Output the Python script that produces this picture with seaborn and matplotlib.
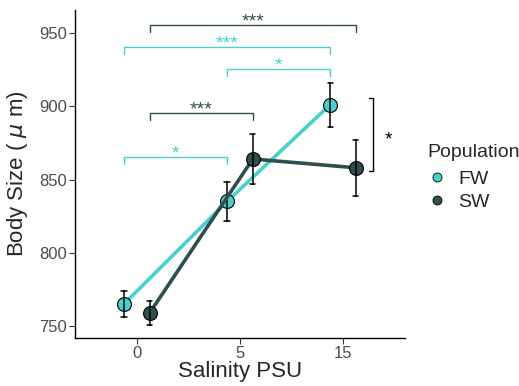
import matplotlib
matplotlib.use("Agg")
import matplotlib.pyplot as plt
import seaborn as sns
import pandas as pd
import numpy as np
from matplotlib.lines import Line2D

salinity = ["0", "5", "15"]
populations = ["FW", "SW"]
fw_mean = [765, 835, 901]
fw_err = [9, 13, 15]
sw_mean = [759, 864, 858]
sw_err = [8, 17, 19]
colors = {"FW": "#48D1CC", "SW": "#2F4F4F"}

# comparisons: (population, from category, to category, y, label)
comparisons = [
    ("SW", 0, 2, 955.5, "***"),
    ("FW", 0, 2, 940.5, "***"),
    ("FW", 1, 2, 925.5, "*"),
    ("SW", 0, 1, 895.5, "***"),
    ("FW", 0, 1, 865.5, "*"),
]

rows = []
for pop, means, errs in [("FW", fw_mean, fw_err), ("SW", sw_mean, sw_err)]:
    for s, m, e in zip(salinity, means, errs):
        rows.append({"Salinity": s, "Population": pop, "Size": m - e})
        rows.append({"Salinity": s, "Population": pop, "Size": m + e})
df = pd.DataFrame(rows)

sns.set_style("white")
plt.rcParams["font.family"] = ["Liberation Sans", "DejaVu Sans"]

fig = plt.figure(figsize=(5.19, 3.86), dpi=100)
ax = fig.add_axes([0.1445, 0.1244, 0.6355, 0.8496])

dodge = 0.25
sns.pointplot(data=df, x="Salinity", y="Size", hue="Population", order=salinity,
              hue_order=populations, palette=colors, dodge=dodge,
              errorbar=("pi", 100), capsize=0.05, markers="o",
              err_kws={"color": "black", "linewidth": 1.1},
              markersize=10, markeredgecolor="black", markeredgewidth=0.8,
              linewidth=2.6, ax=ax, legend=False)

offsets = {"FW": -dodge / 2, "SW": dodge / 2}
tip = 5
for pop, a, b, y, lab in comparisons:
    xa, xb = a + offsets[pop], b + offsets[pop]
    ax.plot([xa, xa, xb, xb], [y - tip, y, y, y - tip], color=colors[pop], lw=1, clip_on=False)
    ax.text((xa + xb) / 2, y - 4, lab, ha="center", va="bottom", color=colors[pop], fontsize=14)

# between-population comparison at 15 PSU
xr = 2 + 0.29
ax.plot([xr - 0.035, xr, xr, xr - 0.035], [905.5, 905.5, 856, 856], color="black", lw=1, clip_on=False)
ax.text(xr + 0.15, 877, "*", ha="center", va="center", color="black", fontsize=14)

ax.set_xlim(-0.6, 2.6)
ax.set_ylim(741.8, 965.7)
ax.set_yticks([750, 800, 850, 900, 950])
ax.set_xlabel("Salinity PSU", fontsize=16, labelpad=0)
ax.set_ylabel("Body Size ( $\\mu$ m)", fontsize=16, labelpad=6)
ax.tick_params(axis="both", labelsize=12, labelcolor="#4D4D4D", color="#333333",
               length=4, width=0.8, direction="out", bottom=True, left=True, pad=2)
for side in ["top", "right"]:
    ax.spines[side].set_visible(False)
for side in ["left", "bottom"]:
    ax.spines[side].set_color("black")
    ax.spines[side].set_linewidth(1)

fig.text(427 / 519, 1 - 144 / 386, "Population", fontsize=14, ha="left", va="top")
handles = [Line2D([], [], marker="o", linestyle="none", markerfacecolor=colors[p],
                  markeredgecolor="black", markeredgewidth=0.6, markersize=6.5) for p in populations]
fig.legend(handles, populations, loc="upper left",
           bbox_to_anchor=(427 / 519, 1 - 170 / 386), frameon=False, fontsize=14,
           handletextpad=0.6, labelspacing=0.3, borderaxespad=0, borderpad=0,
           handlelength=1.0)

fig.savefig("out.png", dpi=100)
